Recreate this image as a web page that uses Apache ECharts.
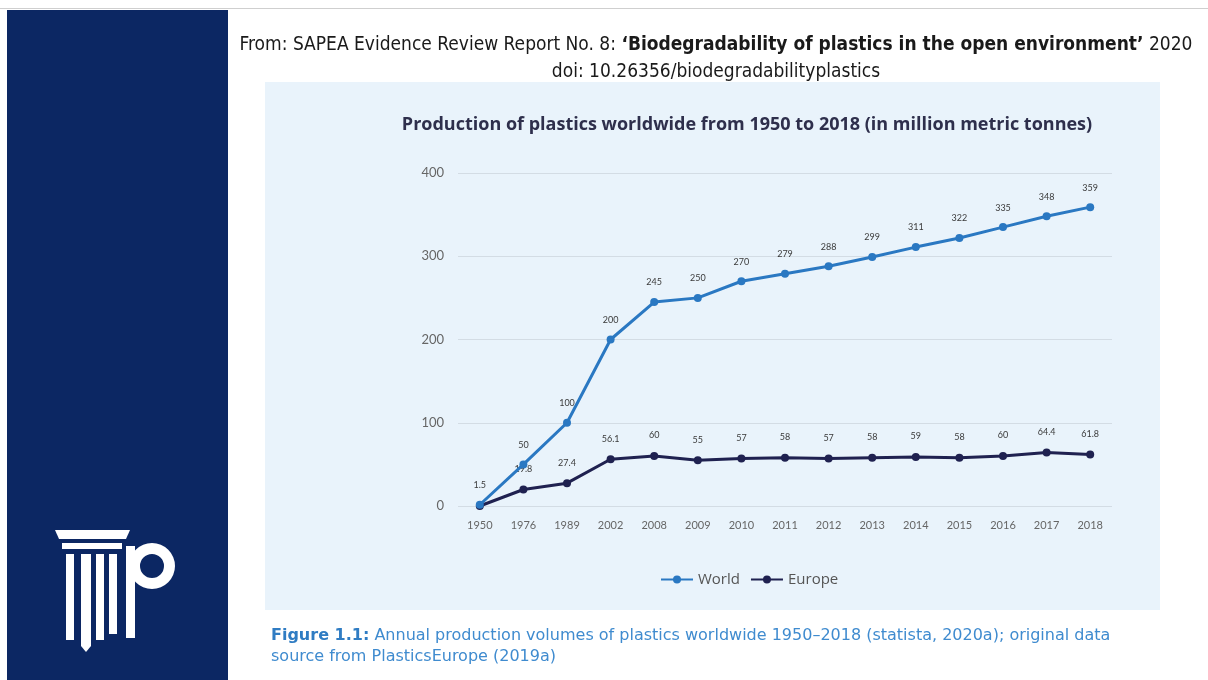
<!DOCTYPE html>
<html>
<head>
<meta charset="utf-8">
<script src="https://cdn.jsdelivr.net/npm/echarts@6/dist/echarts.min.js"></script>
<style>
  html, body { margin: 0; padding: 0; background: #fff; }
  #main { width: 1208px; height: 680px; }
</style>
</head>
<body>
<div id="main"></div>
<script>
// data
const years = ["1950", "1976", "1989", "2002", "2008", "2009", "2010", "2011", "2012", "2013", "2014", "2015", "2016", "2017", "2018"];
const world = [1.5, 50, 100, 200, 245, 250, 270, 279, 288, 299, 311, 322, 335, 348, 359];
const europe = [0, 19.8, 27.4, 56.1, 60, 55, 57, 58, 57, 58, 59, 58, 60, 64.4, 61.8];
const seriesNames = ["World", "Europe"];

const worldColor = "#2a78c2";
const europeColor = "#1f2150";
const headFont = "Liberation Sans Narrow, DejaVu Sans Condensed, sans-serif";
const capFont = "DejaVu Sans";

var myChart = echarts.init(document.getElementById("main"));

var option = {
  backgroundColor: "#ffffff",
  animation: false,
  title: {
    text: "Production of plastics worldwide from 1950 to 2018 (in million metric tonnes)",
    left: 742,
    textAlign: "center",
    top: 111,
    textStyle: {
      fontFamily: "Open Sans",
      fontWeight: "bold",
      fontSize: 18,
      color: "#2e2f4c",
    },
  },
  graphic: [
    // thin top border
    { type: "rect", shape: { x: 0, y: 8, width: 1208, height: 1 }, style: { fill: "#cfcfcf" }, z: -1 },
    // left panel
    { type: "rect", shape: { x: 7, y: 10, width: 221, height: 670 }, style: { fill: "#0c2763" }, z: -1 },
    // logo: capital slabs
    { type: "polygon", shape: { points: [[55, 530], [130, 530], [126, 539], [59, 539]] }, style: { fill: "#fff" } },
    { type: "rect", shape: { x: 62, y: 543, width: 60, height: 6 }, style: { fill: "#fff" } },
    // logo: shafts
    { type: "rect", shape: { x: 66, y: 554, width: 8, height: 86 }, style: { fill: "#fff" } },
    { type: "polygon", shape: { points: [[81, 554], [91, 554], [91, 646], [86, 652], [81, 646]] }, style: { fill: "#fff" } },
    { type: "rect", shape: { x: 96, y: 554, width: 8, height: 86 }, style: { fill: "#fff" } },
    { type: "rect", shape: { x: 109, y: 554, width: 8, height: 80 }, style: { fill: "#fff" } },
    // logo: P
    { type: "rect", shape: { x: 126, y: 546, width: 9, height: 92 }, style: { fill: "#fff" } },
    { type: "ring", shape: { cx: 152, cy: 566, r: 23, r0: 12 }, style: { fill: "#fff" } },
    // light blue chart box
    { type: "rect", shape: { x: 265, y: 82, width: 895, height: 528 }, style: { fill: "#e9f3fb" }, z: -1 },
    // header
    {
      type: "text",
      style: {
        x: 716, y: 45, align: "center", verticalAlign: "middle",
        text: "{n|From: SAPEA Evidence Review Report No. 8: }{b|\u2018Biodegradability of plastics in the open environment\u2019}{n| 2020}",
        rich: {
          n: { fontFamily: headFont, fontSize: 19, fill: "#1a1a1a" },
          b: { fontFamily: headFont, fontSize: 19, fontWeight: "bold", fill: "#1a1a1a" },
        },
      },
    },
    {
      type: "text",
      style: {
        x: 716, y: 72, align: "center", verticalAlign: "middle",
        text: "doi: 10.26356/biodegradabilityplastics",
        fontFamily: headFont, fontSize: 19, fill: "#1a1a1a",
      },
    },
    // caption
    {
      type: "text",
      style: {
        x: 271, y: 636, align: "left", verticalAlign: "middle",
        text: "{b|Figure 1.1:}{n| Annual production volumes of plastics worldwide 1950\u20132018 (statista, 2020a); original data}",
        rich: {
          b: { fontFamily: capFont, fontSize: 16, fontWeight: "bold", fill: "#2f7cc3" },
          n: { fontFamily: capFont, fontSize: 16, fill: "#3f8bcf" },
        },
      },
    },
    {
      type: "text",
      style: {
        x: 271, y: 657, align: "left", verticalAlign: "middle",
        text: "source from PlasticsEurope (2019a)",
        fontFamily: capFont, fontSize: 16, fill: "#3f8bcf",
      },
    },
  ],
  legend: {
    data: seriesNames,
    left: 655,
    top: 567,
    textStyle: { fontFamily: "Open Sans", fontSize: 15, color: "#555" },
    itemWidth: 32,
    itemHeight: 10,
    itemGap: 10,
  },
  grid: {
    left: 458,
    right: 96,
    top: 173,
    bottom: 174,
  },
  xAxis: {
    type: "category",
    data: years,
    boundaryGap: true,
    axisLine: { show: false },
    axisTick: { show: false },
    axisLabel: { interval: 0, margin: 14, fontFamily: "Lato", fontSize: 11, color: "#666" },
  },
  yAxis: {
    type: "value",
    min: 0,
    max: 400,
    interval: 100,
    axisLine: { show: false },
    axisTick: { show: false },
    axisLabel: { margin: 14, fontFamily: "Lato", fontSize: 13, color: "#666" },
    splitLine: { lineStyle: { color: "#d3dce4", width: 1 } },
  },
  series: [
    {
      name: seriesNames[0],
      type: "line",
      data: world,
      symbol: "circle",
      symbolSize: 8,
      z: 3,
      itemStyle: { color: worldColor },
      lineStyle: { color: worldColor, width: 3 },
      label: { show: true, position: "top", distance: 11, fontFamily: "Lato", fontSize: 9, color: "#3a3a3a" },
    },
    {
      name: seriesNames[1],
      type: "line",
      data: europe.map((v, i) => (i === 0 ? { value: v, label: { show: false } } : v)),
      symbol: "circle",
      symbolSize: 8,
      z: 2,
      itemStyle: { color: europeColor },
      lineStyle: { color: europeColor, width: 3 },
      label: { show: true, position: "top", distance: 12, fontFamily: "Lato", fontSize: 9, color: "#3a3a3a" },
    },
  ],
};

myChart.setOption(option);
</script>
</body>
</html>
